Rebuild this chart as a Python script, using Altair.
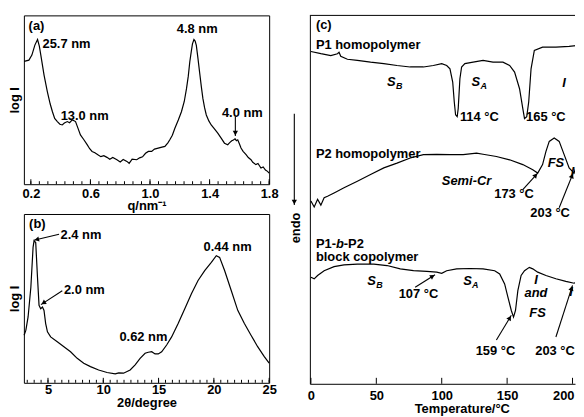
import math
import altair as alt
import pandas as pd

FONT = "Liberation Sans"

# ---------------- panel (a): SAXS, log I vs q ----------------
q_a = [0.155, 0.187, 0.207, 0.227, 0.245, 0.257, 0.267, 0.289, 0.311, 0.33,
       0.345, 0.36, 0.378, 0.395, 0.411, 0.425, 0.445, 0.46, 0.478, 0.49,
       0.50, 0.515, 0.533, 0.555, 0.578, 0.595, 0.611, 0.63, 0.655, 0.67,
       0.69, 0.711, 0.73, 0.75, 0.778, 0.80, 0.82, 0.845, 0.86, 0.88,
       0.911, 0.93, 0.95, 0.97, 0.989, 1.011, 1.03, 1.055, 1.08, 1.10,
       1.12, 1.133, 1.15, 1.167, 1.19, 1.211, 1.23, 1.245, 1.257, 1.267,
       1.277, 1.285, 1.295, 1.303, 1.311, 1.322, 1.333, 1.345, 1.355, 1.366,
       1.378, 1.395, 1.411, 1.43, 1.455, 1.48, 1.50, 1.522, 1.535, 1.549,
       1.56, 1.571, 1.58, 1.589, 1.60, 1.611, 1.625, 1.645, 1.66, 1.678,
       1.69, 1.711, 1.725, 1.745, 1.76, 1.775, 1.789, 1.80]
logI_a = [72.8, 73.5, 76.5, 82.4, 85.7, 81.8, 76.5, 64.5, 54.7, 47.5,
          42.9, 39.0, 37.1, 35.5, 35.1, 36.2, 37.1, 36.4, 38.1, 37.6,
          37.1, 33.5, 29.2, 26.5, 23.4, 21.0, 19.4, 18.6, 17.1, 16.3,
          16.9, 15.9, 14.8, 15.8, 14.5, 13.2, 14.6, 13.5, 12.4, 14.9,
          14.5, 15.6, 16.2, 18.3, 19.4, 19.4, 20.8, 21.4, 22.0, 22.4,
          24.5, 26.3, 29.0, 33.1, 38.0, 42.9, 49.0, 56.6, 64.0, 72.4,
          78.5, 83.1, 85.7, 84.8, 82.2, 74.5, 66.3, 57.5, 50.8, 45.5,
          41.0, 37.5, 35.1, 33.0, 30.2, 27.0, 24.3, 23.4, 24.6, 25.7,
          26.2, 26.9, 25.8, 26.3, 24.0, 21.4, 19.5, 17.5, 15.8, 14.5,
          13.0, 11.6, 12.3, 9.6, 10.2, 8.4, 7.6, 6.5]
a_labels_vals = [0.2, 0.6, 1.0, 1.4, 1.8]
a_minor = [round(0.2 + k * 0.4 / 7, 4) for k in range(29)]

# ---------------- panel (b): WAXD, log I vs 2theta ----------------
tth_b = [2.84, 3.0, 3.2, 3.45, 3.65, 3.74, 3.89, 4.05, 4.19, 4.34,
         4.5, 4.64, 4.79, 4.95, 5.24, 5.84, 6.44, 7.04, 7.64, 8.23,
         8.84, 9.58, 10.34, 11.08, 11.4, 11.83, 12.43, 12.88, 13.33, 13.78,
         14.07, 14.38, 14.68, 14.97, 15.28, 15.73, 16.18, 16.77, 17.37, 17.97,
         18.57, 19.17, 19.77, 20.22, 20.52, 20.97, 21.57, 22.16, 22.76, 23.36,
         23.96, 24.56, 25.0]
logI_b = [28.2, 31.2, 39.0, 56.6, 80.2, 84.1, 83.1, 62.5, 45.9, 43.9,
          44.9, 42.9, 35.1, 30.2, 27.2, 24.3, 21.4, 18.4, 14.5, 11.6,
          9.6, 7.6, 6.1, 5.3, 5.9, 5.7, 7.6, 10.6, 14.5, 17.5,
          18.1, 18.4, 17.1, 17.1, 18.4, 22.4, 27.2, 35.1, 43.9, 52.8,
          60.6, 66.5, 71.4, 75.3, 74.3, 66.5, 54.7, 42.9, 35.1, 28.2,
          21.4, 15.5, 11.6]
b_labels_vals = [5, 10, 15, 20, 25]
b_minor = [3.125 + 0.625 * k for k in range(36)]

# ---------------- panel (c): DSC traces ----------------
T_p1 = [0, 7.6, 15.2, 20.3, 21.5, 22.8, 27.9, 35.5, 45.6, 55.7,
        65.8, 75.9, 86.0, 93.6, 100.0, 103.8, 106.3, 108.4, 109.6, 110.6,
        111.8, 112.6, 113.9, 115.2, 117.7, 124.0, 131.6, 139.2, 146.8, 151.9,
        155.7, 159.5, 162.0, 163.3, 165.0, 166.5, 168.3, 170.8, 177.1, 187.3,
        197.4, 207.5]
hf_p1 = [90.2, 89.6, 89.1, 89.6, 90.0, 88.9, 88.1, 87.8, 87.3, 86.9,
         86.4, 86.0, 86.0, 86.4, 86.9, 86.4, 85.5, 81.9, 76.5, 73.0,
         72.5, 74.7, 82.8, 86.0, 86.9, 87.3, 87.8, 87.3, 87.3, 86.4,
         84.6, 80.1, 74.7, 72.0, 72.5, 76.5, 85.5, 90.5, 91.4, 91.4,
         91.6, 92.0]
T_p2 = [0, 2.5, 5.1, 7.6, 10.1, 12.7, 17.7, 25.3, 35.5, 45.6,
        55.7, 65.8, 75.9, 86.0, 96.2, 106.3, 116.4, 126.6, 131.6, 141.8,
        151.9, 162.0, 169.6, 173.4, 177.1, 179.7, 182.2, 186.0, 189.8, 193.6,
        197.4, 201.2, 203.7, 206.3, 208.0]
hf_p2 = [49.6, 48.0, 50.1, 48.5, 50.5, 50.9, 51.8, 53.2, 55.0, 56.8,
         58.6, 59.9, 61.3, 62.2, 62.3, 62.2, 62.2, 62.6, 62.3, 61.7,
         60.8, 59.5, 58.1, 57.2, 59.5, 63.1, 65.8, 66.7, 65.8, 62.2,
         58.6, 57.2, 60.4, 64.0, 64.9]
T_bc = [0, 2.5, 5.1, 10.1, 17.7, 25.3, 35.5, 48.1, 58.2, 68.3,
        78.4, 88.6, 96.2, 100.0, 103.8, 111.4, 121.5, 131.6, 140.5, 144.3,
        148.1, 150.6, 153.2, 154.9, 156.4, 158.2, 160.7, 163.3, 167.0, 169.6,
        173.4, 179.7, 187.3, 194.9, 201.2, 205.0, 208.0]
hf_bc = [28.9, 28.5, 29.4, 30.7, 31.8, 32.3, 32.5, 32.5, 32.1, 31.2,
         30.7, 30.5, 30.3, 30.0, 30.7, 31.2, 31.3, 31.2, 30.7, 29.8,
         27.1, 23.5, 19.9, 18.1, 19.9, 25.3, 29.4, 30.7, 31.6, 31.2,
         30.3, 29.4, 28.5, 27.8, 27.3, 28.0, 28.9]
c_labels_vals = [0, 50, 100, 150, 200]

# ---------------- layout ----------------
A_W, A_H = 247, 170
C_W, C_H = 267, 371
A_DOM = [0.1533, 1.8]
B_DOM = [2.82, 25.0]
C_DOM = [-0.8, 201.9]
Y_DOM = [0, 100]
LW = 1.2


def x_axis(vals, fmt, title, lpad, tpad):
    return alt.Axis(values=vals, format=fmt, ticks=False, domain=False, grid=False,
                    labelFont=FONT, labelFontSize=13, labelFontWeight="bold",
                    labelColor="black", labelPadding=lpad, labelFlush=False,
                    labelOverlap=False, title=title, titleFont=FONT,
                    titleFontSize=13, titleFontWeight="bold", titleColor="black",
                    titlePadding=tpad)


def enc(dom, xaxis, yaxis):
    X = alt.X("x:Q", scale=alt.Scale(domain=dom, nice=False, zero=False), axis=xaxis)
    Y = alt.Y("y:Q", scale=alt.Scale(domain=Y_DOM, nice=False, zero=False), axis=yaxis)
    return X, Y


def curve(xv, yv, X, Y, clip=False):
    df = pd.DataFrame({"x": xv, "y": yv, "o": list(range(len(xv)))})
    return alt.Chart(df).mark_line(color="black", strokeWidth=LW, clip=clip).encode(
        x=X, y=Y, order="o:Q")


def text(xv, yv, txt, X, Y, align="left", italic=False, size=13, dx=0, dy=0, angle=0):
    df = pd.DataFrame({"x": xv, "y": yv, "t": txt})
    return alt.Chart(df).mark_text(
        align=align, baseline="middle", font=FONT, fontSize=size, fontWeight="bold",
        fontStyle="italic" if italic else "normal", color="black",
        dx=dx, dy=dy, angle=angle).encode(x=X, y=Y, text="t:N")


def ticks(vals, X, H, length):
    df = pd.DataFrame({"x": vals})
    return alt.Chart(df).mark_rule(color="black", strokeWidth=1).encode(
        x=X, y=alt.value(H), y2=alt.value(H - length))


def arrows(x1, y1, x2, y2, X, Y, kx, ky, size=28, back=3.0):
    heads = {"x": [], "y": [], "a": []}
    for a, b, c, d in zip(x1, y1, x2, y2):
        dxp = (c - a) * kx
        dyp = -(d - b) * ky
        L = math.hypot(dxp, dyp)
        ux, uy = dxp / L, dyp / L
        heads["x"].append(c - back * ux / kx)
        heads["y"].append(d + back * uy / ky)
        heads["a"].append(math.degrees(math.atan2(ux, -uy)) % 360)
    ldf = pd.DataFrame({"x": x1, "y": y1, "x2": x2, "y2": y2})
    line = alt.Chart(ldf).mark_rule(color="black", strokeWidth=1.1).encode(
        x=X, y=Y, x2="x2:Q", y2="y2:Q")
    head = alt.Chart(pd.DataFrame(heads)).mark_point(
        shape="triangle-up", filled=True, color="black", opacity=1, size=size,
        strokeWidth=0).encode(x=X, y=Y, angle=alt.Angle("a:Q", scale=None))
    return [line, head]


ylog = alt.Axis(title="log I", labels=False, ticks=False, domain=False, grid=False,
                titleFont=FONT, titleFontSize=13, titleFontWeight="bold",
                titleColor="black", titlePadding=2)

# ---- panel a ----
Xa, Ya = enc(A_DOM, x_axis(a_labels_vals, ".1f", "q/nm\u207b\u00b9", 3, -1), ylog)
kxa, kya = A_W / (A_DOM[1] - A_DOM[0]), A_H / 100.0
panel_a = alt.layer(
    curve(q_a, logI_a, Xa, Ya),
    ticks(a_minor, Xa, A_H, 3),
    ticks(a_labels_vals, Xa, A_H, 5),
    text([0.185, 0.278, 0.40], [93.5, 83.1, 40.4], ["(a)", "25.7 nm", "13.0 nm"], Xa, Ya),
    text([1.317, 1.62], [91.9, 42.4], ["4.8 nm", "4.0 nm"], Xa, Ya, align="center"),
    *arrows([1.573], [40.0], [1.573], [28.5], Xa, Ya, kxa, kya),
).properties(width=A_W, height=A_H)

# ---- panel b ----
Xb, Yb = enc(B_DOM, x_axis(b_labels_vals, "d", "2\u03b8/degree", 1, 0), ylog)
kxb, kyb = A_W / (B_DOM[1] - B_DOM[0]), A_H / 100.0
panel_b = alt.layer(
    curve(tth_b, logI_b, Xb, Yb),
    ticks(b_minor, Xb, A_H, 3),
    ticks(b_labels_vals, Xb, A_H, 5),
    text([3.29, 6.14, 6.44], [94.1, 87.6, 54.7], ["(b)", "2.4 nm", "2.0 nm"], Xb, Yb),
    text([13.63, 21.24], [27.3, 80.2], ["0.62 nm", "0.44 nm"], Xb, Yb, align="center"),
    *arrows([6.0, 6.29], [88.0, 54.5], [3.72, 4.36], [84.5, 46.3], Xb, Yb, kxb, kyb),
).properties(width=A_W, height=A_H)

# ---- panel c ----
xc_axis = alt.Axis(values=c_labels_vals[:-1], format="d", ticks=False, domain=True,
                   domainColor="black", domainWidth=1, grid=False,
                   labelFont=FONT, labelFontSize=13, labelFontWeight="bold",
                   labelColor="black", labelPadding=6, labelFlush=False,
                   labelOverlap=False, title="Temperature/\u00b0C", titleFont=FONT,
                   titleFontSize=13, titleFontWeight="bold", titleColor="black",
                   titleX=153, titleY=19)
yc_axis = alt.Axis(title=None, labels=False, ticks=False, domain=True,
                   domainColor="black", domainWidth=1, grid=False)
Xc, Yc = enc(C_DOM, xc_axis, yc_axis)
kxc, kyc = C_W / (C_DOM[1] - C_DOM[0]), C_H / 100.0

top_line = alt.Chart(pd.DataFrame({"x": [0.0]})).mark_rule(color="black", strokeWidth=1).encode(
    x=alt.value(0), x2=alt.value(C_W), y=alt.value(0))

last_label = alt.Chart(pd.DataFrame({"x": c_labels_vals[-1:], "t": ["200"]})).mark_text(
    align="right", baseline="top", font=FONT, fontSize=13, fontWeight="bold",
    color="black", dx=2).encode(x=Xc, y=alt.value(C_H + 6), text="t:N")

panel_c = alt.layer(
    curve(T_p1, hf_p1, Xc, Yc, clip=True),
    curve(T_p2, hf_p2, Xc, Yc, clip=True),
    curve(T_bc, hf_bc, Xc, Yc, clip=True),
    top_line,
    ticks(c_labels_vals, Xc, C_H, 6),
    last_label,
    text([3.8, 3.8, 3.8, 3.8, 113.9, 164.5],
         [97.4, 91.9, 62.3, 34.3, 72.5, 72.5],
         ["(c)", "P1 homopolymer", "P2 homopolymer", "block copolymer", "114 \u00b0C", "165 \u00b0C"],
         Xc, Yc),
    text([155.3, 182.9, 82.2, 141.1, 186.6],
         [51.5, 46.4, 24.4, 8.9, 8.9],
         ["173 \u00b0C", "203 \u00b0C", "107 \u00b0C", "159 \u00b0C", "203 \u00b0C"],
         Xc, Yc, align="center"),
    text([3.8], [37.9], ["P1-"], Xc, Yc),
    text([19.1], [37.9], ["b"], Xc, Yc, italic=True),
    text([25.1], [37.9], ["-P2"], Xc, Yc),
    text([58.2, 122.8, 43.1, 116.4], [81.9, 81.9, 28.0, 28.0], ["S", "S", "S", "S"],
         Xc, Yc, italic=True),
    text([58.2, 43.1], [81.9, 28.0], ["B", "B"], Xc, Yc, italic=True, size=9, dx=9, dy=4),
    text([122.8, 116.4], [81.9, 28.0], ["A", "A"], Xc, Yc, italic=True, size=9, dx=9, dy=4),
    text([192.1, 198.6, 170.8, 197.5], [81.7, 57.4, 28.3, 24.8], ["I", "I", "I", "I"],
         Xc, Yc, italic=True),
    text([119.0, 187.3, 172.1, 173.3], [55.0, 59.8, 24.7, 19.3],
         ["Semi-Cr", "FS", "and", "FS"], Xc, Yc, align="center", italic=True),
    text([-11.4], [42.3], ["endo"], Xc, Yc, align="center", angle=270),
    *arrows([162.0, 189.8, 79.7, 141.8, 187.3, -12.7],
            [52.7, 47.8, 26.2, 11.9, 12.7, 73.3],
            [173.4, 200.5, 94.9, 153.2, 200.0, -12.7],
            [57.2, 57.2, 29.6, 18.6, 26.7, 48.5],
            Xc, Yc, kxc, kyc),
).properties(width=C_W, height=C_H, view=alt.ViewBackground(stroke="transparent"))

left = alt.vconcat(panel_a, panel_b, spacing=30, bounds="flush")
chart = alt.hconcat(left, panel_c, spacing=10).properties(
    padding={"left": 0, "top": 5, "right": 0, "bottom": 0}
).configure(font=FONT).configure_view(stroke="black", strokeWidth=1)

chart.save("out.html", embed_options={"renderer": "svg", "actions": False})
